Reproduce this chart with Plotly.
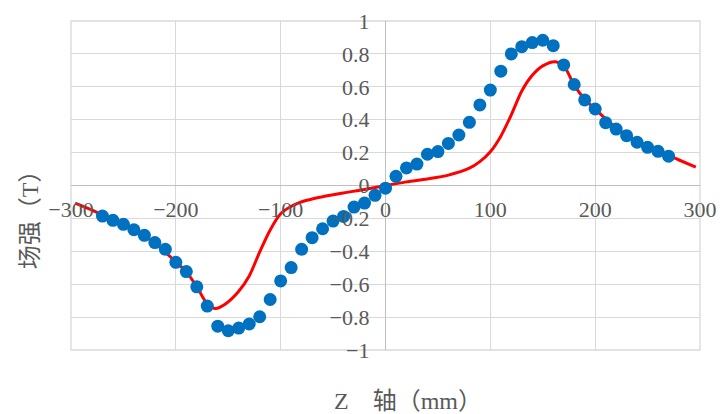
import plotly.graph_objects as go

# Measured points (blue markers)
meas_x = [-270, -260, -250, -240, -230, -220, -210, -200, -190, -180, -170, -160, -150, -140,
          -130, -120, -110, -100, -90, -80, -70, -60, -50, -40, -30, -20, -10, 0,
          10, 20, 30, 40, 50, 60, 70, 80, 90, 100, 110, 120, 130, 140, 150, 160, 170,
          180, 190, 200, 210, 220, 230, 240, 250, 260, 270]
meas_y = [-0.186, -0.212, -0.236, -0.269, -0.303, -0.347, -0.388, -0.467, -0.523, -0.616,
          -0.733, -0.855, -0.883, -0.867, -0.842, -0.798, -0.693, -0.58, -0.499, -0.388,
          -0.317, -0.263, -0.216, -0.188, -0.131, -0.107, -0.06, -0.016,
          0.056, 0.107, 0.13, 0.19, 0.206, 0.256, 0.307, 0.384, 0.49, 0.58, 0.695, 0.80,
          0.844, 0.869, 0.883, 0.85, 0.733, 0.614, 0.52, 0.465, 0.382, 0.343, 0.303,
          0.263, 0.232, 0.208, 0.178]

# Simulated curve (red line)
sim_x = [-296, -280, -260, -240, -220, -200, -190, -180, -170, -162, -152, -140, -130, -120,
         -110, -100, -88, -75, -60, -40, -20, 0,
         20, 40, 60, 80, 90, 100, 110, 120, 130, 140, 150, 162, 170, 180, 190, 200,
         220, 240, 260, 280, 296]
sim_y = [-0.107, -0.15, -0.21, -0.27, -0.35, -0.465, -0.525, -0.615, -0.72, -0.748, -0.717,
         -0.643, -0.55, -0.404, -0.27, -0.172, -0.12, -0.09, -0.068, -0.045, -0.024, 0.0,
         0.022, 0.04, 0.063, 0.105, 0.145, 0.205, 0.3, 0.43, 0.575, 0.67, 0.727, 0.752,
         0.728, 0.61, 0.525, 0.465, 0.35, 0.27, 0.21, 0.155, 0.111]

x_ticks = [-300, -200, -100, 0, 100, 200, 300]
y_ticks = [-1, -0.8, -0.6, -0.4, -0.2, 0, 0.2, 0.4, 0.6, 0.8, 1]

FONT = "Liberation Serif, Noto Sans CJK SC, serif"
GRID = "#D9D9D9"
TXT = "#595959"


def fmt(v):
    s = "%g" % abs(v)
    return ("\u2212" + s) if v < 0 else s


fig = go.Figure()
fig.add_trace(go.Scatter(x=sim_x, y=sim_y, mode="lines",
                         line=dict(color="#FF0000", width=3, shape="spline", smoothing=0.8),
                         showlegend=False))
fig.add_trace(go.Scatter(x=meas_x, y=meas_y, mode="markers",
                         marker=dict(color="#0070C0", size=13),
                         showlegend=False))

fig.update_layout(
    width=721, height=414,
    margin=dict(l=71, r=21, t=21, b=64, autoexpand=False),
    paper_bgcolor="white", plot_bgcolor="white",
    font=dict(family=FONT, color=TXT, size=22),
    xaxis=dict(range=[-300, 300], tickmode="array", tickvals=x_ticks,
               ticktext=[fmt(v) for v in x_ticks], automargin=False,
               showgrid=True, gridcolor=GRID, gridwidth=1.3,
               zeroline=True, zerolinecolor="#BFBFBF", zerolinewidth=1.3,
               showline=False, ticks="", anchor="free", position=0.5,
               ticklabelstandoff=8, tickfont=dict(size=22, color=TXT, family=FONT)),
    yaxis=dict(range=[-1, 1], tickmode="array", tickvals=y_ticks,
               ticktext=[fmt(v) for v in y_ticks], automargin=False,
               showgrid=True, gridcolor=GRID, gridwidth=1.3,
               zeroline=True, zerolinecolor="#BFBFBF", zerolinewidth=1.3,
               showline=False, ticks="", anchor="free", position=0.5,
               ticklabelstandoff=16, tickfont=dict(size=22, color=TXT, family=FONT)),
    shapes=[dict(type="rect", xref="paper", yref="paper", x0=0, y0=0, x1=1, y1=1,
                 line=dict(color=GRID, width=1.3), layer="below")],
    annotations=[
        dict(text="场强（T）", xref="paper", yref="paper", x=-0.065, y=0.413,
             textangle=-90, showarrow=False, xanchor="center", yanchor="middle",
             font=dict(size=24, color=TXT, family=FONT)),
        dict(text="Z\u3000轴（mm）", xref="paper", yref="paper", x=0.535, y=-0.155,
             showarrow=False, xanchor="center", yanchor="middle",
             font=dict(size=24, color=TXT, family=FONT)),
    ],
)

fig.write_html("out.html")
